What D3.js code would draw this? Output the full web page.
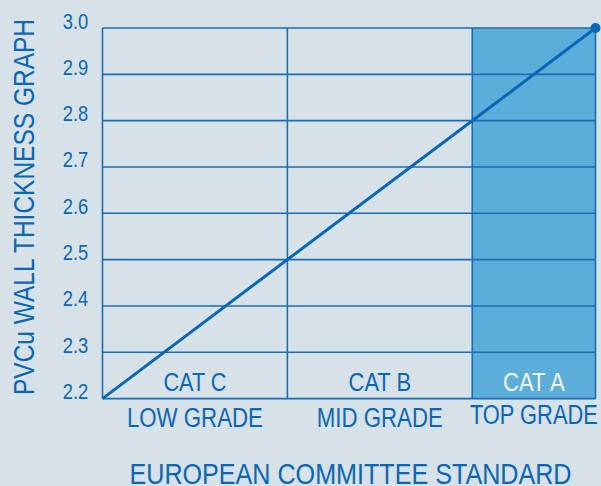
<!DOCTYPE html>
<html>
<head>
<meta charset="utf-8">
<script src="https://cdn.jsdelivr.net/npm/d3@7"></script>
<style>
  html, body { margin: 0; padding: 0; background: #d6e1e8; }
  svg { display: block; }
  text { font-family: "Liberation Sans", Arial, sans-serif; }
</style>
</head>
<body>
<svg id="chart" width="601" height="486"></svg>
<script>
// ---- data ----
const yTicks = [2.2, 2.3, 2.4, 2.5, 2.6, 2.7, 2.8, 2.9, 3.0];
const categories = ["CAT C", "CAT B", "CAT A"];
const grades = ["LOW GRADE", "MID GRADE", "TOP GRADE"];
const catStart = [2.2, 2.5, 2.8];
const catEnd = [2.5, 2.8, 3.0];
const lineX = [2.2, 3.0];
const lineY = [2.2, 3.0];
const yTitle = "PVCu WALL THICKNESS GRAPH";
const xTitle = "EUROPEAN COMMITTEE STANDARD";

// ---- layout (condensed text widths) ----
const mLeft = 102.5, mRight = 595.5, mTop = 28, mBottom = 398.6;
const blue = "#0b66b5";
const fillC = "#5aaed9";
const catW = [63, 62.5, 62];
const gradeW = [136, 126, 128];

const svg = d3.select("#chart");
const x = d3.scaleLinear().domain([2.2, 3.0]).range([mLeft, mRight]);
const y = d3.scaleLinear().domain([2.2, 3.0]).range([mBottom, mTop]);

const cats = categories.map((c, i) => ({ name: c, grade: grades[i], x0: catStart[i], x1: catEnd[i], hi: i === 2, cw: catW[i], gw: gradeW[i] }));

// filled top category
svg.append("g").selectAll("rect").data(cats.filter(d => d.hi)).join("rect")
  .attr("x", d => x(d.x0)).attr("y", mTop)
  .attr("width", d => x(d.x1) - x(d.x0)).attr("height", mBottom - mTop)
  .attr("fill", fillC);

// horizontal gridlines
svg.append("g").selectAll("line").data(yTicks).join("line")
  .attr("x1", mLeft).attr("x2", mRight)
  .attr("y1", d => y(d)).attr("y2", d => y(d))
  .attr("stroke", "#1a6db6").attr("stroke-width", 1.6);

// vertical separators
const vx = [2.2, 2.5, 2.8, 3.0];
svg.append("g").selectAll("line").data(vx).join("line")
  .attr("x1", d => x(d)).attr("x2", d => x(d))
  .attr("y1", mTop).attr("y2", mBottom)
  .attr("stroke", "#1a6db6").attr("stroke-width", 1.6);

// y axis labels
const yAxis = d3.axisLeft(y).tickValues(yTicks).tickFormat(d3.format(".1f")).tickSize(0).tickPadding(0);
const ga = svg.append("g").attr("transform", `translate(${88.3},0)`).call(yAxis);
ga.select(".domain").remove();
ga.selectAll("text")
  .attr("x", 0).attr("dy", 0)
  .attr("fill", blue).attr("font-size", 22)
  .attr("textLength", 25.5).attr("lengthAdjust", "spacingAndGlyphs")
  .style("font-family", '"Liberation Sans", Arial, sans-serif');

// line
const pts = lineX.map((v, i) => [v, lineY[i]]);
svg.append("path").datum(pts)
  .attr("d", d3.line().x(d => x(d[0])).y(d => y(d[1])))
  .attr("fill", "none").attr("stroke", blue).attr("stroke-width", 3);
svg.append("circle").datum(pts[pts.length - 1])
  .attr("cx", d => x(d[0])).attr("cy", d => y(d[1])).attr("r", 5)
  .attr("fill", blue);

// category labels
svg.append("g").selectAll("text").data(cats).join("text")
  .attr("x", d => (x(d.x0) + x(d.x1)) / 2).attr("y", 391)
  .attr("text-anchor", "middle").attr("font-size", 26)
  .attr("textLength", d => d.cw).attr("lengthAdjust", "spacingAndGlyphs")
  .attr("fill", d => d.hi ? "#f2f7fb" : blue)
  .text(d => d.name);

svg.append("g").selectAll("text").data(cats).join("text")
  .attr("x", d => (x(d.x0) + x(d.x1)) / 2).attr("y", d => d.hi ? 423.5 : 427)
  .attr("text-anchor", "middle").attr("font-size", 27)
  .attr("textLength", d => d.gw).attr("lengthAdjust", "spacingAndGlyphs")
  .attr("fill", blue)
  .text(d => d.grade);

// titles
svg.append("text")
  .attr("x", 350.5).attr("y", 484)
  .attr("text-anchor", "middle").attr("font-size", 29.5).attr("fill", blue)
  .attr("textLength", 442).attr("lengthAdjust", "spacingAndGlyphs")
  .text(xTitle);

svg.append("text")
  .attr("transform", "translate(33.5,207) rotate(-90)")
  .attr("text-anchor", "middle").attr("font-size", 29.5).attr("fill", blue)
  .attr("textLength", 376).attr("lengthAdjust", "spacingAndGlyphs")
  .text(yTitle);
</script>
</body>
</html>
